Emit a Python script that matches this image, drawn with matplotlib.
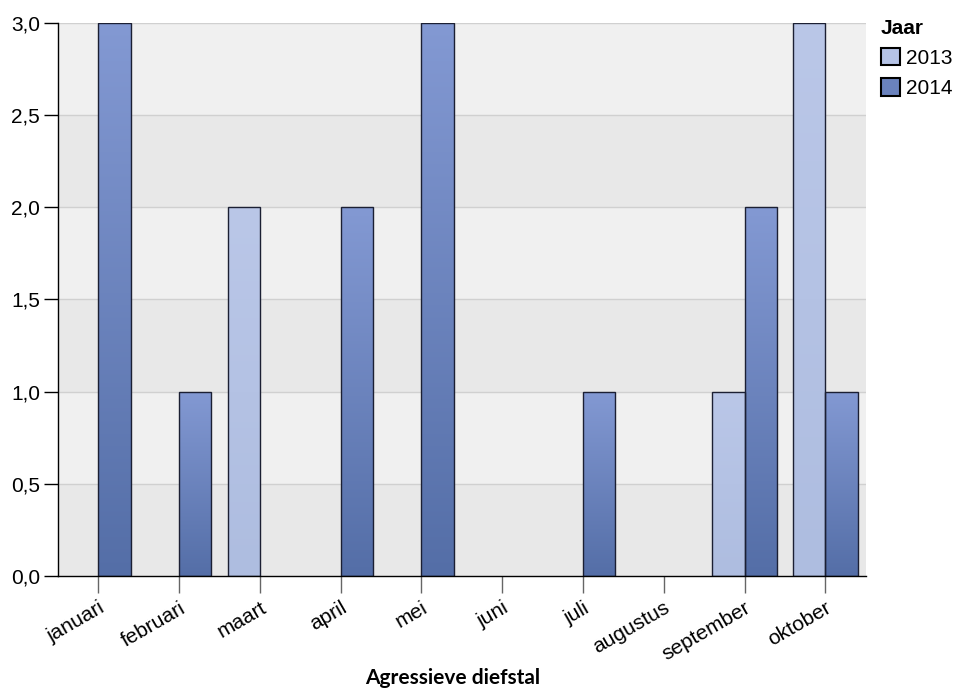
import numpy as np
import matplotlib
matplotlib.use("Agg")
import matplotlib.pyplot as plt
from matplotlib.colors import LinearSegmentedColormap
from matplotlib.patches import Patch

months = ["januari", "februari", "maart", "april", "mei", "juni",
          "juli", "augustus", "september", "oktober"]
years = ["2013", "2014"]
values_2013 = [0, 0, 2, 0, 0, 0, 0, 0, 1, 3]
values_2014 = [3, 1, 0, 2, 3, 0, 1, 0, 2, 1]
y_ticks = [0.0, 0.5, 1.0, 1.5, 2.0, 2.5, 3.0]

plt.rcParams["font.family"] = ["Liberation Sans", "DejaVu Sans"]

fig = plt.figure(figsize=(9.64, 6.9), dpi=100)
ax = fig.add_axes([0.0602, 0.1652, 0.8378, 0.8015])

ymax = 3.0

# alternating bands
for i in range(len(y_ticks) - 1):
    c = "#e8e8e8" if i % 2 == 0 else "#f0f0f0"
    ax.axhspan(y_ticks[i], y_ticks[i + 1], color=c, zorder=0, lw=0)
for t in y_ticks[1:]:
    ax.axhline(t, color="#d0d0d0", lw=1, zorder=0.5)

cm13 = LinearSegmentedColormap.from_list("c13", ["#aebde0", "#bac7e8"])
cm14 = LinearSegmentedColormap.from_list("c14", ["#546ea7", "#8399d3"])

x = np.arange(len(months))
w = 0.4
grad = np.linspace(0, 1, 256).reshape(-1, 1)


def gradient_bars(xs, vals, cmap):
    bars = ax.bar(xs, vals, width=w, facecolor="none", edgecolor="#1b1f33",
                  lw=1, zorder=3)
    for b, v in zip(bars, vals):
        if v <= 0:
            b.set_visible(False)
            continue
        x0 = b.get_x()
        # gradient runs over each bar's own height
        im = ax.imshow(grad, cmap=cmap, origin="lower", aspect="auto",
                       extent=[x0, x0 + b.get_width(), 0, v], zorder=2)
        im.set_clip_path(b)
    return bars


gradient_bars(x - w / 2, values_2013, cm13)
gradient_bars(x + w / 2, values_2014, cm14)
ax.set_xlim(-0.5, len(months) - 0.5)
ax.set_ylim(0, ymax)

ax.set_yticks(y_ticks)
ax.set_yticklabels([("%.1f" % t).replace(".", ",") for t in y_ticks], fontsize=15)
ax.tick_params(axis="y", length=10, width=1, color="black", pad=3)
ax.set_xticks(x)
ax.set_xticklabels(months, rotation=30, ha="right", rotation_mode="anchor", fontsize=15)
ax.tick_params(axis="x", length=12, width=1, color="#666666", pad=4)

for s in ["top", "right"]:
    ax.spines[s].set_visible(False)
for s in ["left", "bottom"]:
    ax.spines[s].set_linewidth(1)
    ax.spines[s].set_zorder(4)

fig.text(0.4694, 0.003, "Agressieve diefstal", ha="center", va="bottom",
         fontsize=15, fontweight="bold", family="Lato")

handles = [Patch(facecolor="#b5c3e6", edgecolor="black", lw=1.5),
           Patch(facecolor="#6a82bd", edgecolor="black", lw=1.5)]
leg = fig.legend(handles, years, title="Jaar", loc="upper left",
                 bbox_to_anchor=(0.905, 0.985), frameon=False, fontsize=15,
                 title_fontproperties={"weight": "bold", "size": 15},
                 handlelength=0.9, handleheight=0.9, handletextpad=0.3,
                 labelspacing=0.5, borderaxespad=0)
leg._legend_box.align = "left"

fig.savefig("out.png", dpi=100)
